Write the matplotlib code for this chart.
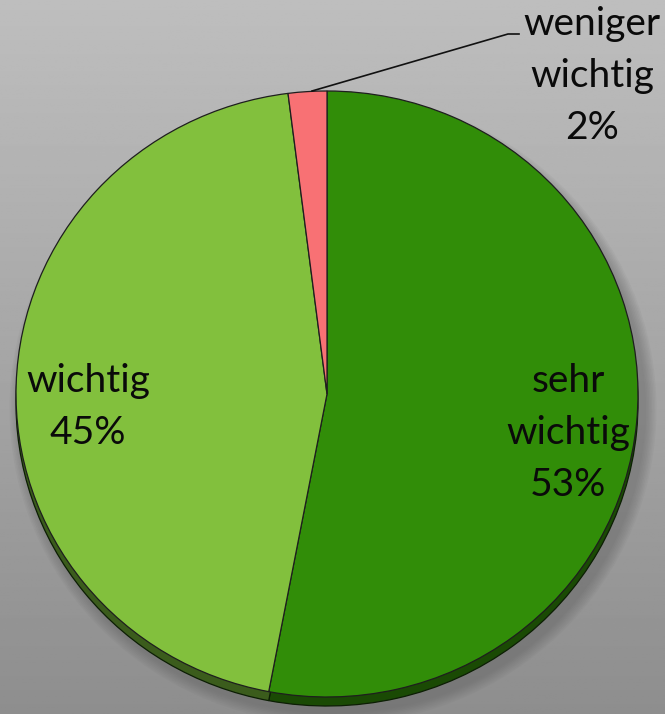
import numpy as np
import matplotlib.pyplot as plt
from matplotlib.patches import Ellipse
from matplotlib.lines import Line2D

W, H = 665, 714

labels = ['sehr\nwichtig', 'wichtig', 'weniger\nwichtig']
values = [53, 45, 2]
colors = ['#318d08', '#82c03d', '#f87174']
side_colors = ['#1a4a04', '#3b5c1c', '#8a3a3c']

# ellipse of the top face, in pixels
cx, cy, rx, ry = 327, 394, 311, 303
depth = 9

fig = plt.figure(figsize=(W / 100, H / 100), dpi=100)

# background gradient
bg = fig.add_axes([0, 0, 1, 1])
grad = np.linspace(190, 142, 256).reshape(-1, 1) / 255.0
bg.imshow(np.repeat(grad, 2, axis=1), cmap='gray', vmin=0, vmax=1,
          extent=[0, W, H, 0], aspect='auto')
bg.set_xlim(0, W)
bg.set_ylim(H, 0)
bg.axis('off')

# soft shadow under the pie
for k in range(8):
    bg.add_patch(Ellipse((cx + 6, cy + depth + 6), 2 * rx + 4 + 3 * k, 2 * ry + 4 + 3 * k,
                         color='#5a5a5a', alpha=0.06, lw=0, zorder=1))

ax = fig.add_axes([(cx - rx) / W, (H - (cy + ry + depth)) / H,
                   2 * rx / W, (2 * ry + depth) / H])
d = depth / ry

# side of the disc
ax.pie(values, colors=side_colors, startangle=90, counterclock=False,
       center=(0, -d), radius=1,
       wedgeprops=dict(edgecolor='#0c1e04', linewidth=0.9))
# top face
ax.pie(values, colors=colors, startangle=90, counterclock=False,
       center=(0, 0), radius=1,
       wedgeprops=dict(edgecolor='#1e1e1e', linewidth=0.9))
ax.set_aspect('auto')
ax.set_xlim(-1, 1)
ax.set_ylim(-1 - d, 1)
ax.axis('off')

font = dict(family=['Lato', 'DejaVu Sans'], fontsize=28, color='#0a0a0a',
            ha='center', va='center', linespacing=1.55, transform=bg.transData)

fig.text(568, 433, f'{labels[0]}\n{values[0]}%', **font)
fig.text(88, 407, f'{labels[1]}\n{values[1]}%', **font)
fig.text(592, 76, f'{labels[2]}\n{values[2]}%', **font)

# leader line for the small slice
fig.add_artist(Line2D([312, 508, 519], [91, 34, 34], color='#111111',
                      linewidth=1.2, transform=bg.transData))

fig.savefig('out.png', dpi=100)
